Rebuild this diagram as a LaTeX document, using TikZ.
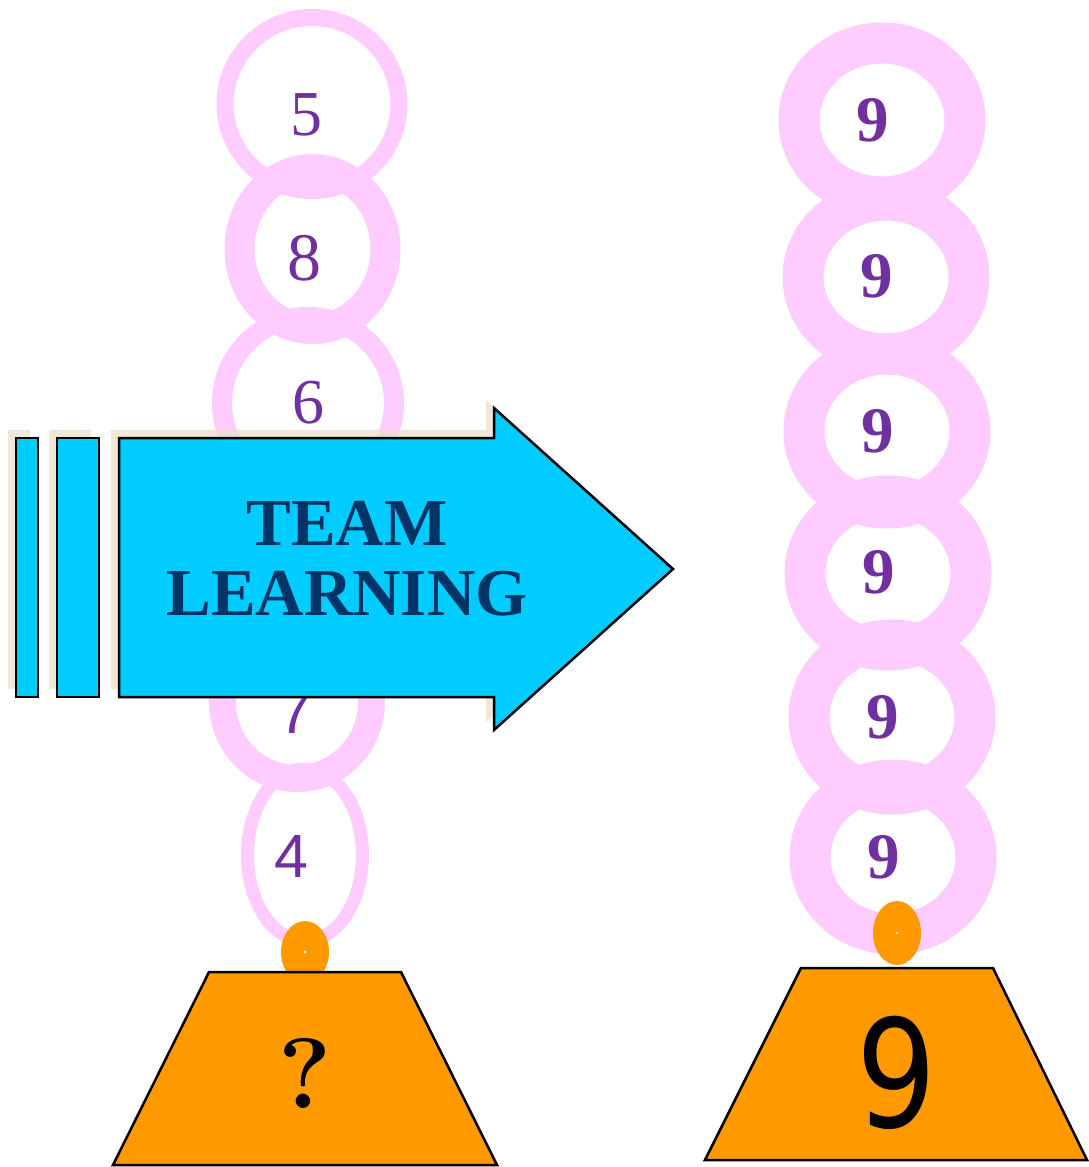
\documentclass[tikz,border=0pt]{standalone}
\usepackage{fontspec}
\newfontfamily\tnr{Liberation Serif}
\newfontfamily\lsans{Liberation Sans}
\newfontfamily\dsans{DejaVu Sans}
\definecolor{ringpink}{HTML}{FFCCFF}
\definecolor{labpurple}{HTML}{7030A0}
\definecolor{arrowcyan}{HTML}{00CCFF}
\definecolor{navytext}{HTML}{003366}
\definecolor{weightorange}{HTML}{FF9900}
\definecolor{shadowbeige}{RGB}{236,224,204}
\begin{document}
\begin{tikzpicture}[x=1pt,y=-1pt,
  ring/.style={draw=ringpink},
  lab/.style={text=labpurple, anchor=base, inner sep=0pt},
  knob/.style={fill=weightorange, even odd rule},
  pedestal/.style={fill=weightorange, draw=black, line width=2.5pt, line join=miter},
  shade/.style={fill=shadowbeige, fill opacity=0.75},
  bluebox/.style={fill=arrowcyan, draw=black, line width=2.5pt, line join=miter}]
\useasboundingbox (0,0) rectangle (1089,1167);
\fill[white] (0,0) rectangle (1089,1167);

% left chain
\draw[ring, line width=17pt] (312,104) ellipse [x radius=87pt, y radius=86.5pt];
\draw[ring, line width=30pt] (312.5,249) ellipse [x radius=73pt, y radius=80pt];
\draw[ring, line width=20pt] (308,403) ellipse [x radius=86pt, y radius=86pt];
\draw[ring, line width=27pt] (297,702) ellipse [x radius=74.5pt, y radius=76.5pt];
\draw[ring, line width=13pt] (305,855) ellipse [x radius=57.5pt, y radius=86pt];

% right chain
\draw[ring, line width=41pt] (882,120) ellipse [x radius=83pt, y radius=77pt];
\draw[ring, line width=41pt] (886,277) ellipse [x radius=83pt, y radius=77pt];
\draw[ring, line width=41pt] (887,431) ellipse [x radius=83pt, y radius=77pt];
\draw[ring, line width=41pt] (888,573) ellipse [x radius=83pt, y radius=77pt];
\draw[ring, line width=41pt] (892,717) ellipse [x radius=83pt, y radius=77pt];
\draw[ring, line width=41pt] (893,857) ellipse [x radius=83pt, y radius=77pt];

% labels on rings
\node[lab, font=\tnr\fontsize{64}{64}\selectfont] (l5) at (306.5,135) {5};
\node[lab, font=\tnr\fontsize{68}{68}\selectfont] (l8) at (304,280) {8};
\node[lab, font=\tnr\fontsize{64}{64}\selectfont] (l6) at (308.5,423) {6};
\node[lab, font=\lsans\fontsize{61}{61}\selectfont] (l7) at (295,733) {7};
\node[lab, font=\lsans\fontsize{61}{61}\selectfont] (l4) at (291.5,877) {4};

\node[lab, font=\tnr\bfseries\fontsize{65}{65}\selectfont] (r1) at (873,141) {9};
\node[lab, font=\tnr\bfseries\fontsize{65}{65}\selectfont] (r2) at (877,297) {9};
\node[lab, font=\tnr\bfseries\fontsize{65}{65}\selectfont] (r3) at (878,452) {9};
\node[lab, font=\tnr\bfseries\fontsize{65}{65}\selectfont] (r4) at (879,593) {9};
\node[lab, font=\tnr\bfseries\fontsize{65}{65}\selectfont] (r5) at (883,738) {9};
\node[lab, font=\tnr\bfseries\fontsize{65}{65}\selectfont] (r6) at (884,878) {9};

% knobs with tiny holes
\fill[knob] (305,952) ellipse [x radius=24pt, y radius=31pt] (305,952) circle [radius=1.6pt];
\fill[knob] (897,933) ellipse [x radius=24pt, y radius=32pt] (897,933) circle [radius=1.6pt];

% pedestals
\draw[pedestal] (209,972) -- (401,972) -- (497,1165) -- (113,1165) -- cycle;
\draw[pedestal] (801,968) -- (993,968) -- (1087,1160) -- (705,1160) -- cycle;
\node[anchor=base, inner sep=0pt, font=\bfseries\fontsize{100}{100}\selectfont] (qmark) at (305,1108) {?};
\node[anchor=base, inner sep=0pt, font=\dsans\fontsize{150}{150}\selectfont] (nine) at (897,1127) {\scalebox{0.84}[1]{9}};

% arrow shadows
\begin{scope}[shift={(-8,-8)}]
  \fill[shade] (16,438) rectangle (38,697);
  \fill[shade] (57,438) rectangle (99,697);
  \fill[shade] (119,438) -- (494,438) -- (494,408) -- (673,569) -- (494,730) -- (494,697) -- (119,697) -- cycle;
\end{scope}

% arrow and stripes
\draw[bluebox] (16,438) rectangle (38,697);
\draw[bluebox] (57,438) rectangle (99,697);
\draw[bluebox] (119,438) -- (494,438) -- (494,408) -- (673,569) -- (494,730) -- (494,697) -- (119,697) -- cycle;
\node[anchor=base, inner sep=0pt, text=navytext, font=\tnr\bfseries\fontsize{67}{67}\selectfont] (team) at (347,545) {TEAM};
\node[anchor=base, inner sep=0pt, text=navytext, font=\tnr\bfseries\fontsize{67}{67}\selectfont] (learning) at (347,615) {LEARNING};
\end{tikzpicture}
\end{document}
